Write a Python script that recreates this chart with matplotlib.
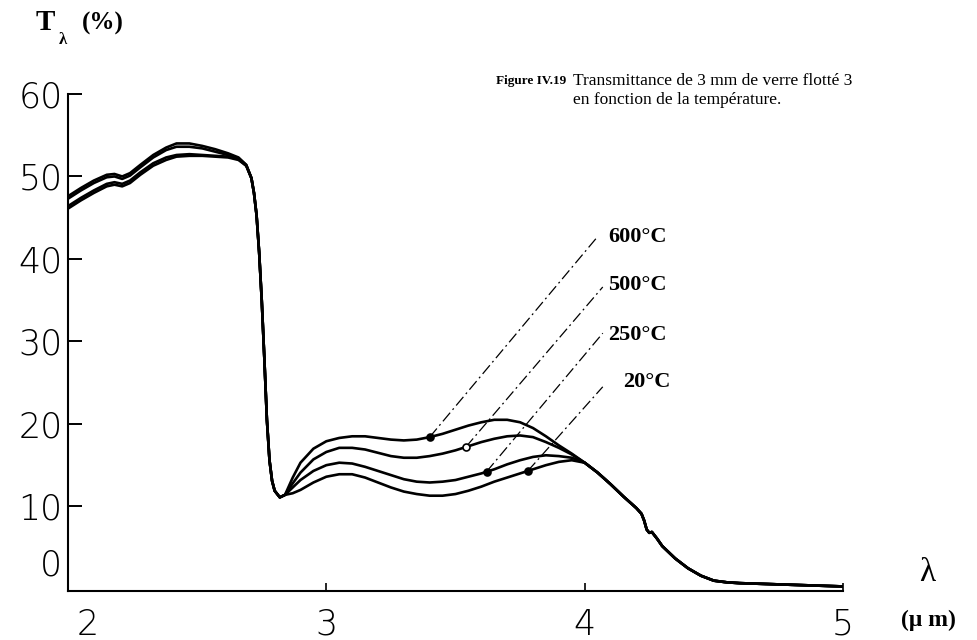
import numpy as np
import matplotlib
matplotlib.use("Agg")
import matplotlib.pyplot as plt
from matplotlib.ticker import FixedLocator, FixedFormatter

# ---- spectral transmittance of 3 mm float glass (T in %, wavelength in µm) ----
# short-wave edge, one list per temperature
wl_edge = [2.00, 2.05, 2.10, 2.15, 2.18, 2.21, 2.24, 2.28, 2.33, 2.38, 2.42,
           2.47, 2.52, 2.57, 2.62, 2.66, 2.69]
t20_edge = [47.6, 48.6, 49.5, 50.2, 50.3, 50.0, 50.4, 51.4, 52.6, 53.5, 54.0,
            54.0, 53.7, 53.3, 52.8, 52.3, 51.4]
t250_edge = [47.3, 48.3, 49.2, 49.9, 50.0, 49.7, 50.1, 51.1, 52.3, 53.2, 53.6,
             53.6, 53.4, 53.0, 52.6, 52.2, 51.4]
t500_edge = [46.4, 47.4, 48.3, 49.1, 49.3, 49.1, 49.5, 50.5, 51.6, 52.3, 52.6,
             52.7, 52.6, 52.5, 52.4, 52.1, 51.3]
t600_edge = [46.1, 47.1, 48.0, 48.8, 49.0, 48.8, 49.2, 50.2, 51.3, 52.0, 52.4,
             52.5, 52.5, 52.4, 52.3, 52.0, 51.3]

# OH absorption drop, common to all temperatures
wl_drop = [2.71, 2.72, 2.73, 2.74, 2.75, 2.76, 2.77, 2.78, 2.79, 2.80, 2.82, 2.84]
t_drop = [49.8, 48.0, 45.3, 40.8, 35.0, 28.0, 20.5, 15.6, 13.1, 11.9, 11.1, 11.4]

# 3-4 µm window, one list per temperature
wl_band = [2.87, 2.90, 2.95, 3.00, 3.05, 3.10, 3.15, 3.20, 3.25, 3.30, 3.35,
           3.40, 3.45, 3.50, 3.55, 3.60, 3.65, 3.70, 3.75, 3.80, 3.85, 3.90, 3.95]
t600_band = [13.5, 15.3, 17.0, 17.9, 18.3, 18.5, 18.5, 18.3, 18.1, 18.0, 18.1,
             18.4, 18.8, 19.3, 19.8, 20.2, 20.5, 20.5, 20.2, 19.5, 18.5, 17.4, 16.4]
t500_band = [12.8, 14.1, 15.7, 16.6, 17.1, 17.1, 16.9, 16.5, 16.1, 15.9, 15.9,
             16.1, 16.4, 16.8, 17.3, 17.8, 18.2, 18.5, 18.6, 18.4, 17.8, 17.1, 16.3]
t250_band = [12.3, 13.2, 14.3, 15.0, 15.3, 15.2, 14.8, 14.3, 13.8, 13.3, 13.0,
             12.9, 13.0, 13.2, 13.6, 14.0, 14.5, 15.1, 15.6, 16.0, 16.2, 16.1, 15.9]
t20_band = [11.6, 12.0, 12.9, 13.6, 13.9, 13.9, 13.5, 12.9, 12.3, 11.8, 11.5,
            11.3, 11.3, 11.5, 11.9, 12.4, 13.0, 13.5, 14.0, 14.5, 15.0, 15.4, 15.6]

# CO2/glass cut-off tail, common to all temperatures
wl_tail = [4.00, 4.05, 4.10, 4.15, 4.20, 4.22, 4.23, 4.24, 4.25, 4.26, 4.28,
           4.30, 4.35, 4.40, 4.45, 4.50, 4.55, 4.60, 4.70, 4.80, 4.90, 5.00]
t_tail = [15.3, 14.1, 12.7, 11.2, 9.8, 9.1, 8.3, 7.2, 6.8, 6.9, 6.1,
          5.2, 3.7, 2.5, 1.6, 1.0, 0.8, 0.7, 0.6, 0.5, 0.4, 0.3]

temperatures = ["600°C", "500°C", "250°C", "20°C"]
edges = [t600_edge, t500_edge, t250_edge, t20_edge]
bands = [t600_band, t500_band, t250_band, t20_band]
# wavelength where each curve is tagged, and where its label sits
tag_wl = [3.40, 3.54, 3.62, 3.78]
tag_open = [False, True, False, False]
label_end_wl = [4.05, 4.07, 4.07, 4.07]
label_end_t = [42.7, 36.6, 31.0, 24.5]
label_wl = [4.09, 4.09, 4.09, 4.15]
label_t = [42.7, 36.9, 30.8, 25.1]

x_ticks = [2, 3, 4, 5]
x_ticklabels = ["", "3", "4", "5"]
y_ticks = [0, 10, 20, 30, 40, 50, 60]
y_ticklabels = ["", "10", "20", "30", "40", "50", "60"]

# ---- figure ----
fig = plt.figure(figsize=(9.78, 6.40), dpi=100)
ax = fig.add_axes([0.0695, 0.0766, 0.7925, 0.7766])

wl = np.concatenate([wl_edge, wl_drop, wl_band, wl_tail])
for name, e, b in zip(temperatures, edges, bands):
    t = np.concatenate([e, t_drop, b, t_tail])
    ax.plot(wl, t, color="black", lw=1.9, solid_capstyle="round",
            solid_joinstyle="round", zorder=3)

wl_b = np.concatenate([wl_drop[-1:], wl_band, wl_tail[:1]])
for i, name in enumerate(temperatures):
    tb = np.concatenate([t_drop[-1:], bands[i], t_tail[:1]])
    ty = np.interp(tag_wl[i], wl_b, tb)
    ax.plot([tag_wl[i], label_end_wl[i]], [ty, label_end_t[i]], color="black",
            lw=0.9, linestyle=(0, (9, 3, 1.5, 3)), zorder=2)
    ax.plot([tag_wl[i]], [ty], marker="o", ms=5,
            mfc="white" if tag_open[i] else "black", mec="black", mew=1.2,
            zorder=4)
    ax.text(label_wl[i], label_t[i], name, family="Liberation Serif",
            weight="bold", fontsize=16, ha="left", va="center")

ax.set_xlim(2, 5)
ax.set_ylim(-0.25, 60)
for s in ("top", "right"):
    ax.spines[s].set_visible(False)
for s in ("left", "bottom"):
    ax.spines[s].set_linewidth(1.5)

ax.xaxis.set_major_locator(FixedLocator(x_ticks))
ax.xaxis.set_major_formatter(FixedFormatter(x_ticklabels))
ax.yaxis.set_major_locator(FixedLocator(y_ticks))
ax.yaxis.set_major_formatter(FixedFormatter(y_ticklabels))
ax.xaxis.set_minor_locator(FixedLocator([5]))

tick_font = dict(family="DejaVu Sans", weight="light", size=25)
ax.tick_params(axis="y", direction="in", length=10, width=1.4, pad=4)
ax.tick_params(axis="x", which="major", direction="in", length=6, width=1.2, pad=12)
ax.tick_params(axis="x", which="minor", direction="out", length=5, width=1.4)
for lab in ax.get_xticklabels() + ax.get_yticklabels():
    lab.set_fontfamily(tick_font["family"])
    lab.set_fontweight(tick_font["weight"])
    lab.set_fontsize(tick_font["size"])
ax.yaxis.get_major_ticks()[0].tick1line.set_visible(False)

# origin labels, drawn slightly off their ticks
ax.annotate("0", xy=(0, 0), xycoords=("axes fraction", "data"),
            xytext=(-4, 17), textcoords="offset points", ha="right",
            va="center", **tick_font)
ax.annotate("2", xy=(2, 0), xycoords=("data", "axes fraction"),
            xytext=(14, -12), textcoords="offset points", ha="center",
            va="top", **tick_font)

# axis titles
fig.text(0.036, 0.965, "T", family="Liberation Serif", weight="bold",
         fontsize=21, ha="left", va="center")
fig.text(0.060, 0.937, "λ", family="Liberation Serif", weight="bold",
         fontsize=12, ha="left", va="center")
fig.text(0.084, 0.964, "(%)", family="Liberation Serif", weight="bold",
         fontsize=18, ha="left", va="center")
fig.text(0.948, 0.105, "λ", family="Liberation Serif", fontsize=24,
         ha="center", va="center")
fig.text(0.949, 0.031, "(μ m)", family="Liberation Serif", weight="bold",
         fontsize=17, ha="center", va="center")

# caption
fig.text(0.507, 0.874, "Figure IV.19", family="Liberation Serif",
         weight="bold", fontsize=9.5, ha="left", va="center")
fig.text(0.586, 0.874, "Transmittance de 3 mm de verre flotté 3",
         family="Liberation Serif", fontsize=12.5, ha="left", va="center")
fig.text(0.586, 0.843, "en fonction de la température.",
         family="Liberation Serif", fontsize=12.5, ha="left", va="center")

fig.savefig("out.png", dpi=100, facecolor="white")
